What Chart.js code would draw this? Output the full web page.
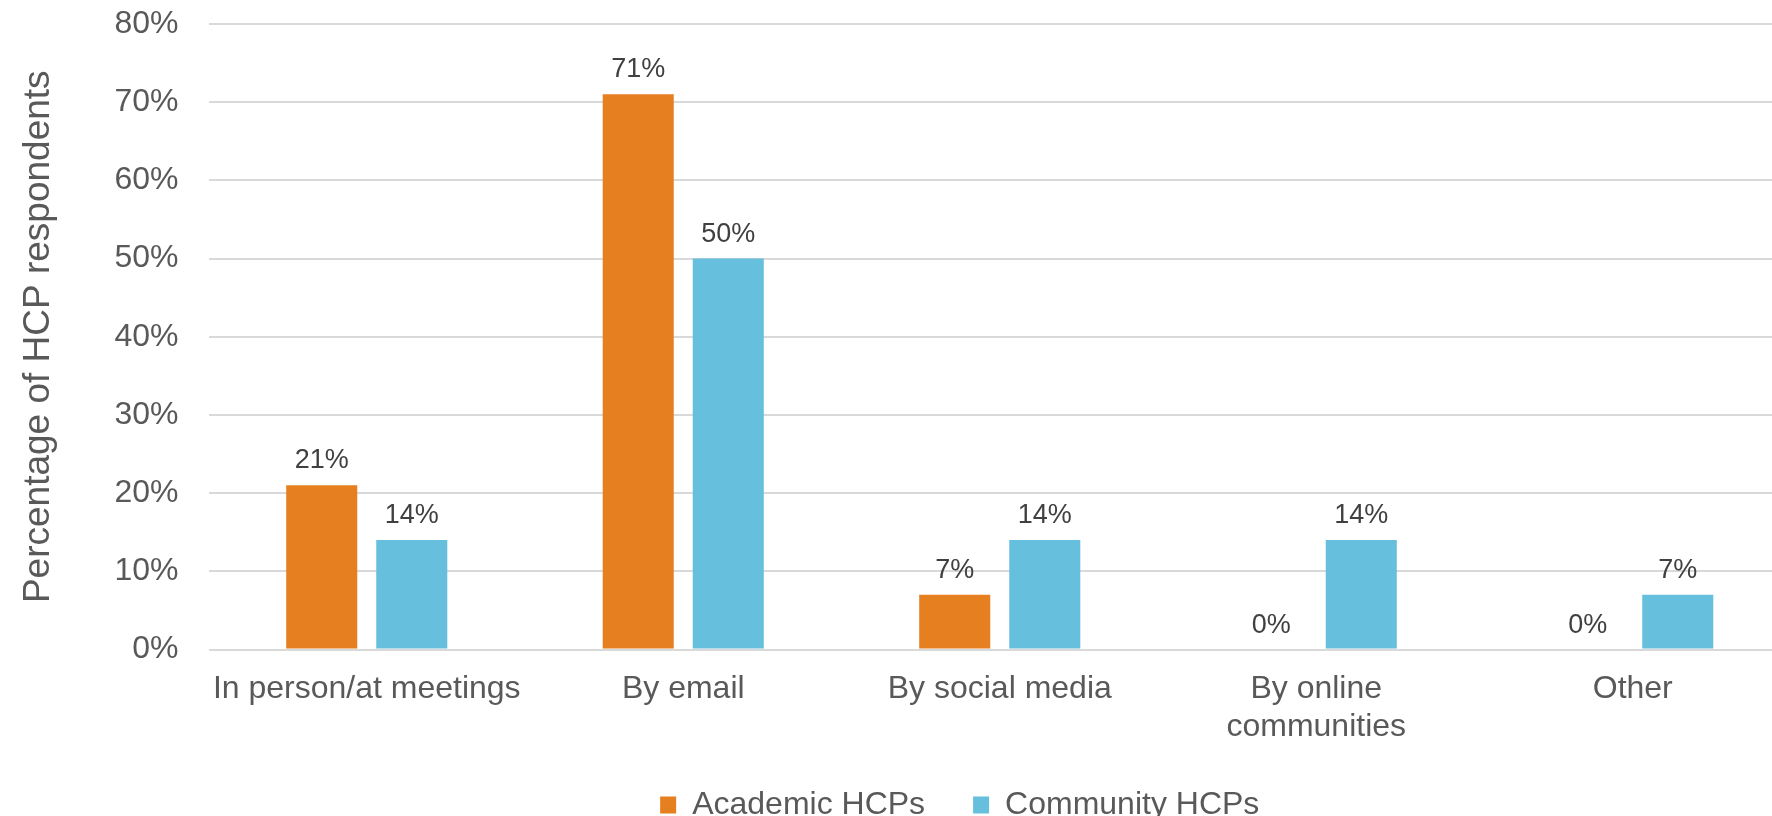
<!DOCTYPE html>
<html>
<head>
<meta charset="utf-8">
<script src="https://cdn.jsdelivr.net/npm/chart.js@4/dist/chart.umd.min.js"></script>
<style>
  html, body { margin: 0; padding: 0; background: #fff; overflow: hidden; }
  /* the original plot runs a little past the right edge of the picture */
  #wrap { width: 1791px; height: 816px; }
</style>
</head>
<body>
<div id="wrap"><canvas id="hcp-chart"></canvas></div>
<script>
var categories = ['In person/at meetings', 'By email', 'By social media', ['By online', 'communities'], 'Other'];
var academic = [21, 71, 7, 0, 0];
var community = [14, 50, 14, 14, 7];
var yTicks = [0, 10, 20, 30, 40, 50, 60, 70, 80];

var fontFamily = "'Liberation Sans', Arial, sans-serif";

// value labels above each bar
var barLabels = {
  id: 'barLabels',
  afterDatasetsDraw: function(chart) {
    var ctx = chart.ctx;
    ctx.save();
    ctx.font = '27px ' + fontFamily;
    ctx.fillStyle = '#404040';
    ctx.textAlign = 'center';
    ctx.textBaseline = 'alphabetic';
    chart.data.datasets.forEach(function(ds, i) {
      chart.getDatasetMeta(i).data.forEach(function(bar, j) {
        ctx.fillText(ds.data[j] + '%', bar.x, bar.y - 17);
      });
    });
    ctx.restore();
  }
};

// nudge the legend so it sits where the original one does
var legendShift = {
  id: 'legendShift',
  afterLayout: function(chart) {
    var dx = -40;
    chart.legend.left += dx;
    chart.legend.right += dx;
    chart.legend.top += 3;
    chart.legend.bottom += 3;
  }
};

new Chart(document.getElementById('hcp-chart'), {
  type: 'bar',
  data: {
    labels: categories,
    datasets: [{
      label: 'Academic HCPs',
      data: academic,
      backgroundColor: '#E67F1F'
    }, {
      label: 'Community HCPs',
      data: community,
      backgroundColor: '#66BFDD'
    }]
  },
  plugins: [barLabels, legendShift],
  options: {
    responsive: true,
    maintainAspectRatio: false,
    animation: false,
    categoryPercentage: 0.569,
    barPercentage: 0.789,
    layout: { padding: { top: 24, left: 10, right: 0, bottom: -12 } },
    plugins: {
      tooltip: { enabled: false },
      legend: {
        position: 'bottom',
        fullSize: false,
        labels: {
          boxWidth: 16,
          boxHeight: 17,
          padding: 48,
          color: '#595959',
          font: { family: fontFamily, size: 32 }
        }
      }
    },
    scales: {
      x: {
        grid: { display: false, drawTicks: false },
        border: { display: false },
        ticks: {
          color: '#595959',
          padding: 20,
          maxRotation: 0,
          autoSkip: false,
          font: { family: fontFamily, size: 32 }
        },
        afterFit: function(scale) { scale.height = 88.5; }
      },
      y: {
        min: 0,
        max: 80,
        afterBuildTicks: function(scale) {
          scale.ticks = yTicks.map(function(v) { return { value: v }; });
        },
        // invisible tick marks keep the labels clear of the plot
        grid: { color: '#D9D9D9', lineWidth: 2, drawTicks: true, tickLength: 30, tickColor: 'rgba(0,0,0,0)' },
        border: { display: false },
        ticks: {
          color: '#595959',
          padding: 0,
          font: { family: fontFamily, size: 32 },
          callback: function(v) { return v + '%'; }
        },
        title: {
          display: true,
          text: 'Percentage of HCP respondents',
          color: '#595959',
          padding: { top: 7, bottom: 4 },
          font: { family: fontFamily, size: 37 }
        },
        afterFit: function(scale) { scale.width = 198.5; }
      }
    }
  }
});
</script>
</body>
</html>
